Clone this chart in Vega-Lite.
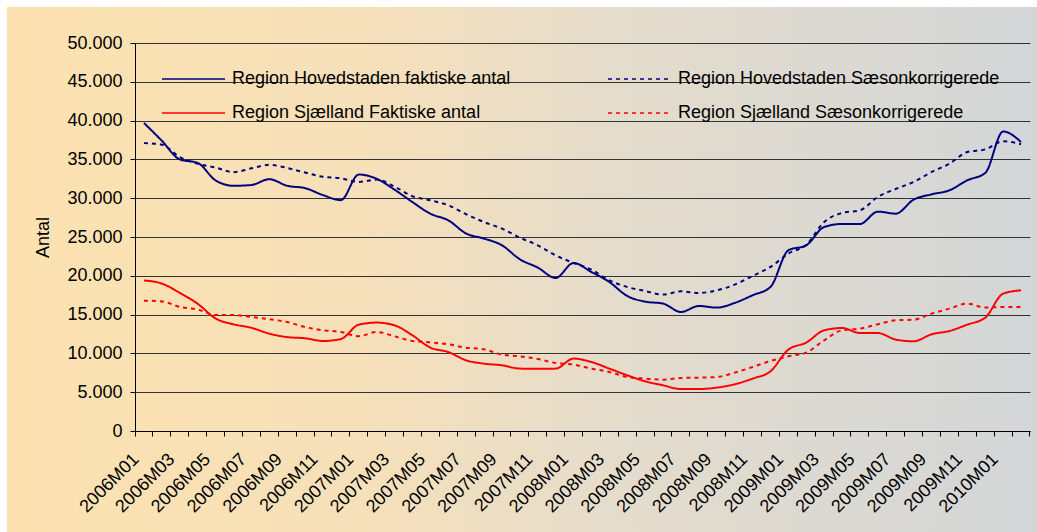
{
 "$schema": "https://vega.github.io/schema/vega-lite/v6.json",
 "width": 1030,
 "height": 525,
 "autosize": {"type": "none"},
 "padding": {"left": 7, "top": 7, "right": 0, "bottom": 0},
 "background": "white",
 "view": {
  "stroke": null,
  "fill": {"gradient": "linear", "x1": 0, "y1": 0, "x2": 1, "y2": 0,
   "stops": [{"offset": 0, "color": "#FCE2B0"}, {"offset": 0.35, "color": "#F6E0BA"}, {"offset": 0.6, "color": "#E4DCCC"}, {"offset": 1, "color": "#D3D6D8"}]}
 },
 "config": {"font": "Liberation Sans"},
 "data": {"values": [
  {"m":"2006M01","hf":39700,"hs":37100,"sf":19400,"ss":16800},
  {"m":"2006M02","hf":37400,"hs":36900,"sf":19000,"ss":16700},
  {"m":"2006M03","hf":35000,"hs":35300,"sf":17800,"ss":16000},
  {"m":"2006M04","hf":34550,"hs":34450,"sf":16400,"ss":15650},
  {"m":"2006M05","hf":32300,"hs":33950,"sf":14500,"ss":14950},
  {"m":"2006M06","hf":31600,"hs":33350,"sf":13750,"ss":14950},
  {"m":"2006M07","hf":31700,"hs":33850,"sf":13300,"ss":14700},
  {"m":"2006M08","hf":32450,"hs":34300,"sf":12550,"ss":14400},
  {"m":"2006M09","hf":31600,"hs":33900,"sf":12100,"ss":14050},
  {"m":"2006M10","hf":31300,"hs":33300,"sf":11950,"ss":13400},
  {"m":"2006M11","hf":30400,"hs":32750,"sf":11600,"ss":12980},
  {"m":"2006M12","hf":29750,"hs":32570,"sf":11850,"ss":12760},
  {"m":"2007M01","hf":33050,"hs":32100,"sf":13700,"ss":12220},
  {"m":"2007M02","hf":32500,"hs":32400,"sf":13970,"ss":12760},
  {"m":"2007M03","hf":31100,"hs":31500,"sf":13620,"ss":12200},
  {"m":"2007M04","hf":29500,"hs":30250,"sf":12330,"ss":11600},
  {"m":"2007M05","hf":28000,"hs":29730,"sf":10740,"ss":11430},
  {"m":"2007M06","hf":27150,"hs":29090,"sf":10180,"ss":11170},
  {"m":"2007M07","hf":25450,"hs":27930,"sf":9110,"ss":10740},
  {"m":"2007M08","hf":24800,"hs":26930,"sf":8680,"ss":10530},
  {"m":"2007M09","hf":23930,"hs":26080,"sf":8470,"ss":9840},
  {"m":"2007M10","hf":22130,"hs":24920,"sf":8040,"ss":9630},
  {"m":"2007M11","hf":21060,"hs":23930,"sf":8020,"ss":9280},
  {"m":"2007M12","hf":19720,"hs":22640,"sf":8040,"ss":8760},
  {"m":"2008M01","hf":21650,"hs":21650,"sf":9330,"ss":8560},
  {"m":"2008M02","hf":20490,"hs":20800,"sf":8890,"ss":8040},
  {"m":"2008M03","hf":19200,"hs":19420,"sf":8040,"ss":7600},
  {"m":"2008M04","hf":17400,"hs":18560,"sf":7180,"ss":6960},
  {"m":"2008M05","hf":16670,"hs":18040,"sf":6400,"ss":6750},
  {"m":"2008M06","hf":16420,"hs":17580,"sf":5890,"ss":6620},
  {"m":"2008M07","hf":15340,"hs":18000,"sf":5410,"ss":6830},
  {"m":"2008M08","hf":16110,"hs":17790,"sf":5410,"ss":6870},
  {"m":"2008M09","hf":15900,"hs":18130,"sf":5590,"ss":6960},
  {"m":"2008M10","hf":16500,"hs":18860,"sf":6020,"ss":7520},
  {"m":"2008M11","hf":17490,"hs":19980,"sf":6750,"ss":8250},
  {"m":"2008M12","hf":18560,"hs":21140,"sf":7690,"ss":9020},
  {"m":"2009M01","hf":23290,"hs":22860,"sf":10490,"ss":9630},
  {"m":"2009M02","hf":23930,"hs":24000,"sf":11390,"ss":10100},
  {"m":"2009M03","hf":26290,"hs":26930,"sf":12980,"ss":11690},
  {"m":"2009M04","hf":26680,"hs":28100,"sf":13270,"ss":12980},
  {"m":"2009M05","hf":26680,"hs":28440,"sf":12630,"ss":13190},
  {"m":"2009M06","hf":28270,"hs":30160,"sf":12630,"ss":13750},
  {"m":"2009M07","hf":28010,"hs":31190,"sf":11780,"ss":14270},
  {"m":"2009M08","hf":29820,"hs":32090,"sf":11560,"ss":14350},
  {"m":"2009M09","hf":30500,"hs":33380,"sf":12460,"ss":15130},
  {"m":"2009M10","hf":31020,"hs":34450,"sf":12890,"ss":15770},
  {"m":"2009M11","hf":32310,"hs":35950,"sf":13710,"ss":16420},
  {"m":"2009M12","hf":33250,"hs":36300,"sf":14610,"ss":15900},
  {"m":"2010M01","hf":38600,"hs":37330,"sf":17700,"ss":15980},
  {"m":"2010M02","hf":37240,"hs":36950,"sf":18130,"ss":15980}
 ]},
 "transform": [{"fold": ["hf", "hs", "sf", "ss"], "as": ["s", "v"]}],
 "mark": {"type": "line", "strokeWidth": 2, "interpolate": "monotone"},
 "encoding": {
  "x": {
   "field": "m", "type": "ordinal", "sort": null,
   "scale": {"type": "band", "paddingInner": 0, "paddingOuter": 0, "range": [128, 1023]},
   "axis": {
    "title": null, "orient": "bottom", "offset": -101,
    "bandPosition": 1, "tickExtra": true, "labelOffset": -14,
    "labelAngle": -45, "labelFontSize": 18, "labelColor": "black",
    "labelExpr": "indexof(['01','03','05','07','09','11'], substring(datum.value, 5)) >= 0 ? datum.value : ''",
    "labelOverlap": false, "labelBound": false, "labelFlush": false,
    "grid": false, "tickSize": 5, "tickColor": "black", "domainColor": "black", "labelPadding": 14
   }
  },
  "y": {
   "field": "v", "type": "quantitative",
   "scale": {"domain": [0, 50000], "range": [424, 36], "nice": false, "zero": true},
   "axis": {
    "title": "Antal", "orient": "left", "offset": -128,
    "values": [0, 5000, 10000, 15000, 20000, 25000, 30000, 35000, 40000, 45000, 50000],
    "labelExpr": "replace(format(datum.value, ','), ',', '.')",
    "grid": true, "gridColor": "#333333", "gridOpacity": 1, "gridWidth": 1,
    "tickSize": 5, "tickColor": "black", "domainColor": "black",
    "labelFontSize": 18, "labelColor": "black", "labelPadding": 8,
    "titleFontSize": 18, "titleFontWeight": "normal", "titleColor": "black", "titlePadding": 14
   }
  },
  "color": {
   "field": "s", "type": "nominal",
   "scale": {"domain": ["hf", "sf", "hs", "ss"], "range": ["#000080", "#FF0000", "#000080", "#FF0000"]},
   "legend": {
    "title": null, "orient": "none", "legendX": 154, "legendY": 62, "columns": 2,
    "columnPadding": 96, "rowPadding": 14, "clipHeight": 20, "symbolType": "stroke", "symbolSize": 3969,
    "symbolStrokeWidth": 1.5, "labelFontSize": 18, "labelColor": "black", "labelOffset": 6,
    "labelLimit": 500, "padding": 0,
    "labelExpr": "datum.label == 'hf' ? 'Region Hovedstaden faktiske antal' : datum.label == 'hs' ? 'Region Hovedstaden Sæsonkorrigerede' : datum.label == 'sf' ? 'Region Sjælland Faktiske antal' : 'Region Sjælland Sæsonkorrigerede'"
   }
  },
  "strokeDash": {
   "field": "s", "type": "nominal",
   "scale": {"domain": ["hf", "sf", "hs", "ss"], "range": [[1, 0], [1, 0], [4, 4], [4, 4]]},
   "legend": {
    "title": null, "orient": "none", "legendX": 154, "legendY": 62, "columns": 2,
    "columnPadding": 96, "rowPadding": 14, "clipHeight": 20, "symbolType": "stroke", "symbolSize": 3969,
    "symbolStrokeWidth": 1.5, "labelFontSize": 18, "labelColor": "black", "labelOffset": 6,
    "labelLimit": 500, "padding": 0,
    "labelExpr": "datum.label == 'hf' ? 'Region Hovedstaden faktiske antal' : datum.label == 'hs' ? 'Region Hovedstaden Sæsonkorrigerede' : datum.label == 'sf' ? 'Region Sjælland Faktiske antal' : 'Region Sjælland Sæsonkorrigerede'"
   }
  }
 }
}
